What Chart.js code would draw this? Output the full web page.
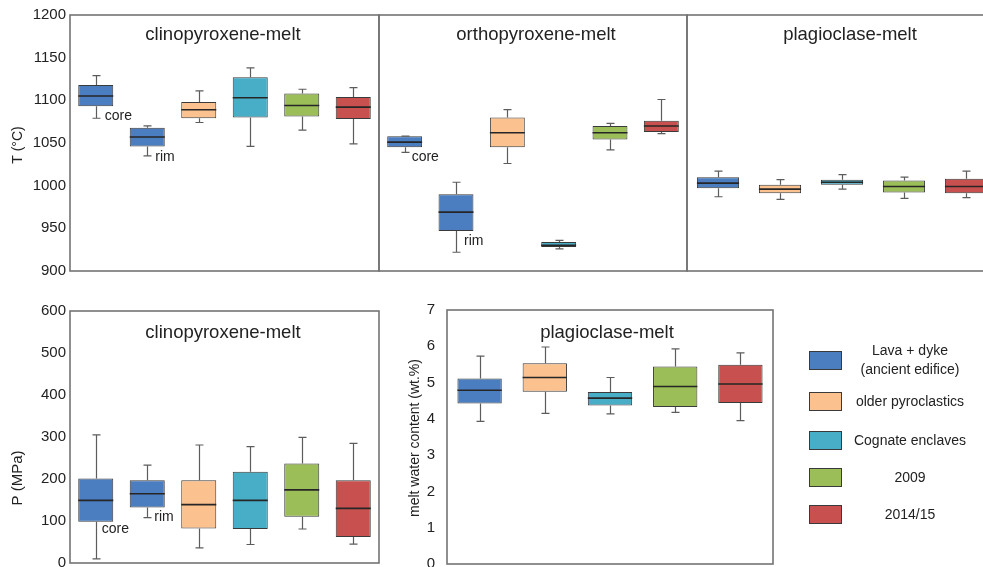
<!DOCTYPE html>
<html>
<head>
<meta charset="utf-8">
<script src="https://cdn.jsdelivr.net/npm/chart.js@4.4.0/dist/chart.umd.min.js"></script>
<style>
html, body { margin: 0; padding: 0; background: #fff; overflow: hidden; }
#page { position: relative; width: 983px; height: 567px; overflow: hidden; font-family: Arial, "Liberation Sans", sans-serif; color: #222; }
#page canvas { position: absolute; left: 0; top: 0; }
.lg { position: absolute; left: 809px; height: 20px; width: 170px; display: flex; align-items: center; }
.sw { width: 33px; height: 19px; border: 1px solid #3a3a3a; box-sizing: border-box; flex: none; }
.tx { width: 136px; text-align: center; font-size: 14px; line-height: 19px; }
</style>
</head>
<body>
<div id="page">
  <canvas id="cpxT" width="1000" height="600"></canvas>
  <canvas id="opxT" width="1000" height="600"></canvas>
  <canvas id="plagT" width="1000" height="600"></canvas>
  <canvas id="cpxP" width="1000" height="600"></canvas>
  <canvas id="plagW" width="1000" height="600"></canvas>
  <div id="legend"></div>
</div>
<script>
// groups and colours
const groups = ['Lava + dyke (ancient edifice)', 'older pyroclastics', 'Cognate enclaves', '2009', '2014/15'];
const groupColors = ['#4a7ec0', '#fbc18e', '#48aec8', '#9bbe58', '#c8504e'];

// panels with core + rim split for the lava group
const sixCats = ['Lava + dyke core', 'Lava + dyke rim', 'older pyroclastics', 'Cognate enclaves', '2009', '2014/15'];
const sixColors = ['#4a7ec0', '#4a7ec0', '#fbc18e', '#48aec8', '#9bbe58', '#c8504e'];

// clinopyroxene-melt T (°C)
const cpxTLow  = [1079, 1035, 1074, 1046, 1065, 1049];
const cpxTQ1   = [1093, 1046, 1079, 1080, 1081, 1078];
const cpxTMed  = [1105, 1057, 1089, 1103, 1094, 1092];
const cpxTQ3   = [1118, 1068, 1098, 1127, 1108, 1104];
const cpxTHigh = [1129, 1070, 1111, 1138, 1113, 1115];

// orthopyroxene-melt T (°C)
const opxTLow  = [1039, 922, 1026, 926, 1042, 1061];
const opxTQ1   = [1045, 947, 1045, 928, 1054, 1063];
const opxTMed  = [1051, 969, 1062, 930, 1062, 1070];
const opxTQ3   = [1058, 990, 1080, 934, 1070, 1076];
const opxTHigh = [1058, 1004, 1089, 936, 1073, 1101];

// plagioclase-melt T (°C)
const plagTLow  = [987, 984, 996, 985, 986];
const plagTQ1   = [997, 991, 1001, 992, 991];
const plagTMed  = [1003, 996, 1004, 999, 999];
const plagTQ3   = [1010, 1001, 1007, 1006, 1008];
const plagTHigh = [1017, 1007, 1013, 1010, 1017];

// clinopyroxene-melt P (MPa)
const cpxPLow  = [10, 108, 36, 44, 81, 45];
const cpxPQ1   = [98, 132, 82, 81, 110, 62];
const cpxPMed  = [149, 165, 139, 149, 174, 130];
const cpxPQ3   = [201, 197, 197, 217, 237, 197];
const cpxPHigh = [305, 233, 281, 277, 299, 285];

// plagioclase-melt water content (wt.%)
const plagWLow  = [3.93, 4.15, 4.14, 4.18, 3.95];
const plagWQ1   = [4.42, 4.75, 4.37, 4.33, 4.44];
const plagWMed  = [4.79, 5.14, 4.57, 4.89, 4.96];
const plagWQ3   = [5.11, 5.53, 4.74, 5.44, 5.49];
const plagWHigh = [5.73, 5.98, 5.14, 5.93, 5.82];

const tTicks = [900, 950, 1000, 1050, 1100, 1150, 1200];
const pTicks = [0, 100, 200, 300, 400, 500, 600];
const wTicks = [0, 1, 2, 3, 4, 5, 6, 7];

const FONT = 'Arial, "Liberation Sans", sans-serif';

// whiskers, medians, frame and texts on top of the floating bars
const boxPlugin = {
    id: 'boxes',
    afterDatasetsDraw(chart, args, opts) {
        const ctx = chart.ctx;
        const y = chart.scales.y;
        const area = chart.chartArea;
        const meta = chart.getDatasetMeta(0);
        ctx.save();
        meta.data.forEach((bar, i) => {
            const x = Math.round(bar.x) + 0.5;
            const half = bar.width / 2;
            const yHi = y.getPixelForValue(opts.high[i]);
            const yQ3 = y.getPixelForValue(opts.q3[i]);
            const yQ1 = y.getPixelForValue(opts.q1[i]);
            const yLo = y.getPixelForValue(opts.low[i]);
            const yMed = y.getPixelForValue(opts.med[i]);
            ctx.strokeStyle = '#5c5c5c';
            ctx.lineWidth = 1.2;
            ctx.beginPath();
            ctx.moveTo(x, yQ3); ctx.lineTo(x, yHi);
            ctx.moveTo(x - 4, yHi); ctx.lineTo(x + 4, yHi);
            ctx.moveTo(x, yQ1); ctx.lineTo(x, yLo);
            ctx.moveTo(x - 4, yLo); ctx.lineTo(x + 4, yLo);
            ctx.stroke();
            ctx.strokeStyle = '#262626';
            ctx.lineWidth = 1.6;
            ctx.beginPath();
            ctx.moveTo(bar.x - half, yMed); ctx.lineTo(bar.x + half, yMed);
            ctx.stroke();
        });

        ctx.fillStyle = '#222';
        ctx.font = '14px ' + FONT;
        ctx.textAlign = 'left';
        ctx.textBaseline = 'middle';
        (opts.notes || []).forEach(n => {
            const bar = meta.data[n.index];
            ctx.fillText(n.text, bar.x + n.dx, y.getPixelForValue(n.value));
        });

        ctx.strokeStyle = '#737373';
        ctx.lineWidth = 1.6;
        ctx.strokeRect(area.left, area.top, area.right - area.left, area.bottom - area.top);

        ctx.textAlign = 'center';
        ctx.font = '18.5px ' + FONT;
        ctx.fillText(opts.title, opts.titleX, opts.titleY);

        if (opts.axisTitle) {
            ctx.font = opts.axisSize + 'px ' + FONT;
            ctx.translate(opts.axisX, opts.axisY);
            ctx.rotate(-Math.PI / 2);
            ctx.fillText(opts.axisTitle, 0, 0);
        }
        ctx.restore();
    }
};

function boxChart(id, cats, colors, low, q1, med, q3, high, yCfg, place, text) {
    const ranges = q1.map((v, i) => [v, q3[i]]);
    new Chart(document.getElementById(id), {
        type: 'bar',
        data: {
            labels: cats,
            datasets: [{
                data: ranges,
                backgroundColor: colors,
                borderColor: '#3a3a3a',
                borderWidth: 1,
                borderSkipped: false,
                barPercentage: 0.68,
                categoryPercentage: 1
            }]
        },
        options: {
            responsive: false,
            animation: false,
            events: [],
            layout: { padding: place.padding },
            plugins: {
                legend: { display: false },
                tooltip: { enabled: false },
                boxes: Object.assign({ low, q1, med, q3, high, axisSize: 14 }, text)
            },
            scales: {
                x: { display: false },
                y: {
                    display: yCfg.showTicks,
                    min: yCfg.ticks[0],
                    max: yCfg.ticks[yCfg.ticks.length - 1],
                    afterBuildTicks: s => { s.ticks = yCfg.ticks.map(v => ({ value: v })); },
                    afterFit: s => { s.width = place.axisWidth; },
                    grid: { display: false, drawTicks: false },
                    border: { display: false },
                    ticks: {
                        color: '#222',
                        padding: place.tickPad,
                        font: { size: 15, family: FONT },
                        callback: v => String(v)
                    }
                }
            }
        },
        plugins: [boxPlugin]
    });
}

boxChart('cpxT', sixCats, sixColors, cpxTLow, cpxTQ1, cpxTMed, cpxTQ3, cpxTHigh,
    { ticks: tTicks, showTicks: true },
    { padding: { left: 0, top: 15, right: 621, bottom: 329 }, axisWidth: 70, tickPad: 4 },
    { title: 'clinopyroxene-melt', titleX: 223, titleY: 35,
      axisTitle: 'T (°C)', axisX: 18, axisY: 145,
      notes: [{ index: 0, text: 'core', dx: 9, value: 1082 }, { index: 1, text: 'rim', dx: 8, value: 1034 }] });

boxChart('opxT', sixCats, sixColors, opxTLow, opxTQ1, opxTMed, opxTQ3, opxTHigh,
    { ticks: tTicks, showTicks: false },
    { padding: { left: 379, top: 15, right: 313, bottom: 329 }, axisWidth: 0, tickPad: 0 },
    { title: 'orthopyroxene-melt', titleX: 536, titleY: 35,
      notes: [{ index: 0, text: 'core', dx: 7, value: 1034 }, { index: 1, text: 'rim', dx: 8, value: 935 }] });

boxChart('plagT', groups, groupColors, plagTLow, plagTQ1, plagTMed, plagTQ3, plagTHigh,
    { ticks: tTicks, showTicks: false },
    { padding: { left: 687, top: 15, right: 3, bottom: 329 }, axisWidth: 0, tickPad: 0 },
    { title: 'plagioclase-melt', titleX: 850, titleY: 35 });

boxChart('cpxP', sixCats, sixColors, cpxPLow, cpxPQ1, cpxPMed, cpxPQ3, cpxPHigh,
    { ticks: pTicks, showTicks: true },
    { padding: { left: 0, top: 311, right: 621, bottom: 37 }, axisWidth: 70, tickPad: 4 },
    { title: 'clinopyroxene-melt', titleX: 223, titleY: 333,
      axisTitle: 'P (MPa)', axisX: 18, axisY: 478, axisSize: 15,
      notes: [{ index: 0, text: 'core', dx: 6, value: 80 }, { index: 1, text: 'rim', dx: 7, value: 109 }] });

boxChart('plagW', groups, groupColors, plagWLow, plagWQ1, plagWMed, plagWQ3, plagWHigh,
    { ticks: wTicks, showTicks: true },
    { padding: { left: 380, top: 310, right: 227, bottom: 36 }, axisWidth: 67, tickPad: 12 },
    { title: 'plagioclase-melt', titleX: 607, titleY: 333,
      axisTitle: 'melt water content (wt.%)', axisX: 415, axisY: 438 });

// legend
const legend = document.getElementById('legend');
const legendLines = ['Lava + dyke<br>(ancient edifice)', 'older pyroclastics', 'Cognate enclaves', '2009', '2014/15'];
const legendTops = [350, 391, 430, 467, 504];
groups.forEach((g, i) => {
    const row = document.createElement('div');
    row.className = 'lg';
    row.style.top = legendTops[i] + 'px';
    row.innerHTML = '<span class="sw" style="background:' + groupColors[i] + '"></span><span class="tx">' + legendLines[i] + '</span>';
    legend.appendChild(row);
});
</script>
</body>
</html>
